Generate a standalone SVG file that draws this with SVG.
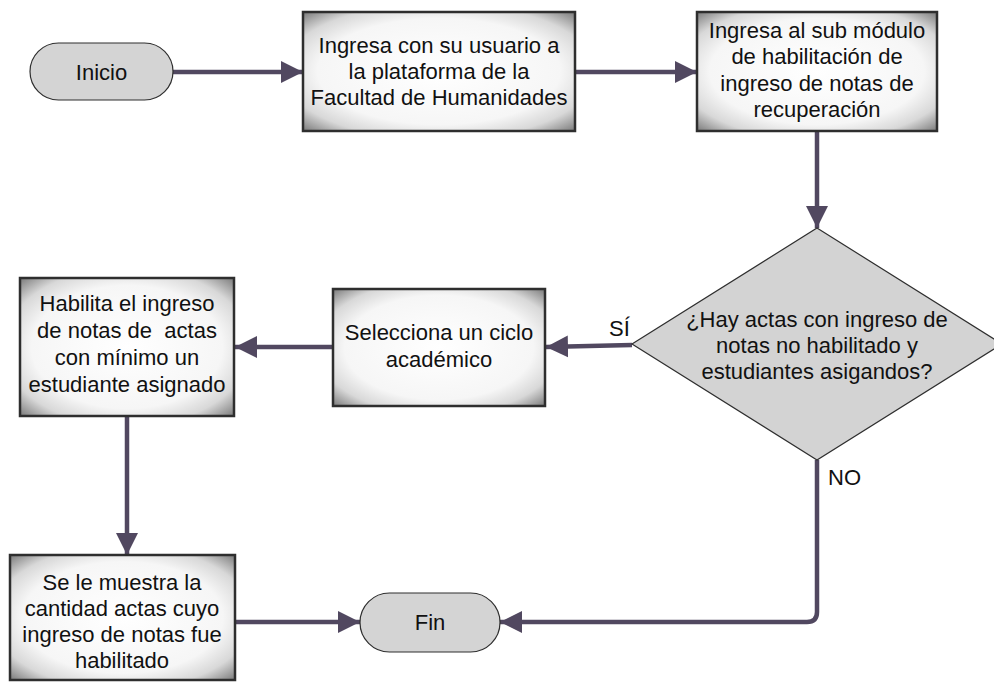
<svg xmlns="http://www.w3.org/2000/svg" width="994" height="687" viewBox="0 0 994 687">
<style>
.box{fill:url(#boxg);stroke:#2e2e2e;stroke-width:2.5}
.term{fill:#d4d4d4;stroke:#2e2e2e;stroke-width:1.2}
.dec{fill:#d3d3d3;stroke:#2e2e2e;stroke-width:1.2}
text{font-family:"Liberation Sans",Arial,sans-serif;font-size:22px;fill:#111;text-anchor:middle;white-space:pre}
.lbl{text-anchor:start}
.conn{fill:none;stroke:#514860;stroke-width:4.5}
</style>
<defs>
<radialGradient id="boxg" cx="50%" cy="50%" r="72%">
<stop offset="0" stop-color="#ffffff"/>
<stop offset="0.62" stop-color="#f6f6f6"/>
<stop offset="0.8" stop-color="#d8d8d8"/>
<stop offset="1" stop-color="#707070"/>
</radialGradient>
<marker id="arr" viewBox="0 0 10 10" refX="10" refY="5" markerWidth="22" markerHeight="22" markerUnits="userSpaceOnUse" orient="auto">
<path d="M0,0 L10,5 L0,10 z" fill="#514860"/>
</marker>
</defs>
<g id="connectors">
<path class="conn" d="M173,72 L303,72" marker-end="url(#arr)"/>
<path class="conn" d="M573,72 L697,72" marker-end="url(#arr)"/>
<path class="conn" d="M817,130 L817,228" marker-end="url(#arr)"/>
<path class="conn" d="M632,345 L546,347" marker-end="url(#arr)"/>
<path class="conn" d="M335,347 L235,347" marker-end="url(#arr)"/>
<path class="conn" d="M127,414 L127,555" marker-end="url(#arr)"/>
<path class="conn" d="M235,622 L360,622" marker-end="url(#arr)"/>
<path class="conn" d="M817,460 L817,612 Q817,622 807,622 L500,622" marker-end="url(#arr)"/>
<text class="lbl" x="609" y="336">SÍ</text>
<text class="lbl" x="828" y="485">NO</text>
</g>
<g id="inicio">
<rect class="term" x="30" y="43" width="143" height="57" rx="28.5"/>
<text x="101.5" y="80">Inicio</text>
</g>
<g id="ingresa">
<rect class="box" x="303" y="12" width="272" height="119"/>
<text x="439" y="53">Ingresa con su usuario a</text>
<text x="439" y="79">la plataforma de la</text>
<text x="439" y="105">Facultad de Humanidades</text>
</g>
<g id="submodulo">
<rect class="box" x="697" y="12" width="240" height="119"/>
<text x="817" y="38">Ingresa al sub módulo</text>
<text x="817" y="64">de habilitación de</text>
<text x="817" y="91">ingreso de notas de</text>
<text x="817" y="117">recuperación</text>
</g>
<g id="decision">
<polygon class="dec" points="817,228 1002,344 817,460 632,344"/>
<text x="817" y="327">¿Hay actas con ingreso de</text>
<text x="817" y="353">notas no habilitado y</text>
<text x="817" y="379">estudiantes asigandos?</text>
</g>
<g id="ciclo">
<rect class="box" x="333" y="289" width="212" height="117"/>
<text x="439" y="340">Selecciona un ciclo</text>
<text x="439" y="367">académico</text>
</g>
<g id="habilita">
<rect class="box" x="20" y="278" width="214" height="138"/>
<text x="127" y="311">Habilita el ingreso</text>
<text x="127" y="338">de notas de  actas</text>
<text x="127" y="365">con mínimo un</text>
<text x="127" y="392">estudiante asignado</text>
</g>
<g id="muestra">
<rect class="box" x="10" y="555" width="225" height="125"/>
<text x="122" y="590">Se le muestra la</text>
<text x="122" y="616">cantidad actas cuyo</text>
<text x="122" y="642">ingreso de notas fue</text>
<text x="122" y="668">habilitado</text>
</g>
<g id="fin">
<rect class="term" x="360" y="593" width="140" height="59" rx="29.5"/>
<text x="430" y="630">Fin</text>
</g>
</svg>
